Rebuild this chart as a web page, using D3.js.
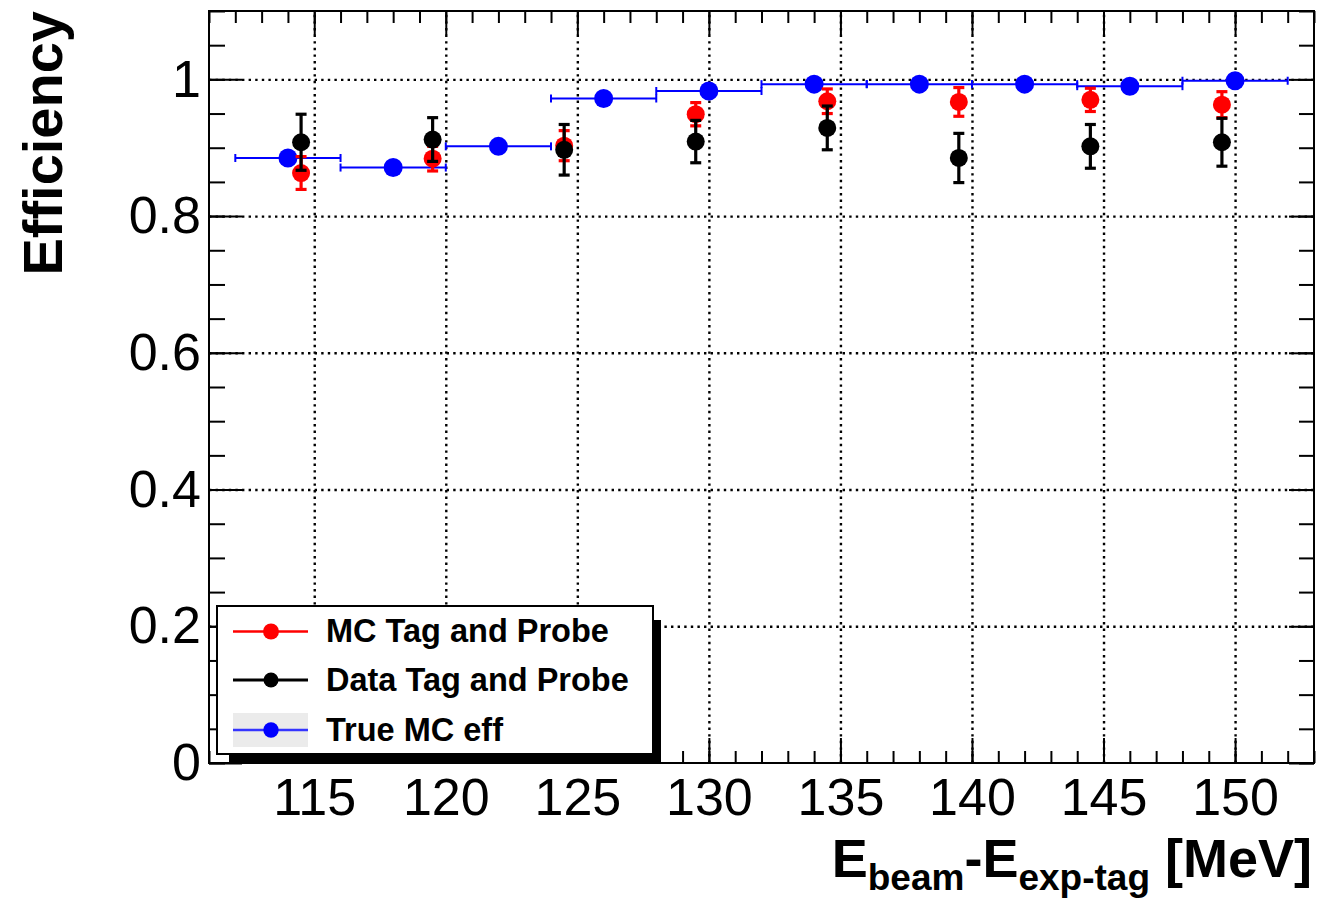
<!DOCTYPE html>
<html lang="en">
<head>
<meta charset="utf-8">
<title>Efficiency vs E_beam - E_exp-tag</title>
<script src="https://cdn.jsdelivr.net/npm/d3@7"></script>
<style>
    body { margin: 0; background: #fff; }
    svg text { font-family: "Liberation Sans", Arial, Helvetica, sans-serif; fill: #000; }
    .grid line { stroke: #000; stroke-width: 2.4; stroke-dasharray: 2.4,4.2; }
    .axis line { stroke: #000; stroke-width: 2; }
    .axis text { font-size: 52px; }
</style>
</head>
<body>
<script>
// true MC efficiency, 4 MeV bins
var binCenters = [114, 118, 122, 126, 130, 134, 138, 142, 146, 150];
var binHalfWidth = 2;
var trueEff = [0.885, 0.871, 0.902, 0.972, 0.983, 0.993, 0.993, 0.993, 0.990, 0.998];

// tag and probe points
var tpEnergy = [114.5, 119.5, 124.5, 129.5, 134.5, 139.5, 144.5, 149.5];
var mcTP = [0.863, 0.884, 0.903, 0.949, 0.968, 0.967, 0.970, 0.963];
var mcTPerr = [0.024, 0.018, 0.022, 0.017, 0.018, 0.021, 0.017, 0.019];
var dataTP = [0.908, 0.912, 0.897, 0.909, 0.929, 0.885, 0.902, 0.908];
var dataTPerr = [0.041, 0.032, 0.037, 0.031, 0.032, 0.036, 0.032, 0.035];

var xTicks = [115, 120, 125, 130, 135, 140, 145, 150];
var yTicks = [0, 0.2, 0.4, 0.6, 0.8, 1];
var legendLabels = ["MC Tag and Probe", "Data Tag and Probe", "True MC eff"];

var width = 1317, height = 898;
var padL = 209, padR = 1314, padT = 11, padB = 763;

var svg = d3.select("body").append("svg")
    .attr("width", width).attr("height", height);

var x = d3.scaleLinear().domain([111, 153]).range([padL, padR]);
var y = d3.scaleLinear().domain([0, 1.1]).range([padB, padT]);

// grid
svg.append("g").attr("class", "grid")
    .attr("transform", "translate(0," + padB + ")")
    .call(d3.axisBottom(x).tickValues(xTicks).tickSize(-(padB - padT)).tickFormat(""))
    .call(g => g.select(".domain").remove());
svg.append("g").attr("class", "grid")
    .attr("transform", "translate(" + padL + ",0)")
    .call(d3.axisLeft(y).tickValues(yTicks.filter(v => v > 0)).tickSize(-(padR - padL)).tickFormat(""))
    .call(g => g.select(".domain").remove());

// ticks, ROOT style (inside the frame)
var xMinor = d3.range(111, 154, 1);
var yMinor = d3.range(0, 1.1001, 0.05);

function addAxis(axis, tr) {
    var g = svg.append("g").attr("class", "axis").attr("transform", tr).call(axis);
    g.select(".domain").remove();
    return g;
}
addAxis(d3.axisBottom(x).tickValues(xMinor).tickSize(-12).tickFormat(""), "translate(0," + padB + ")");
addAxis(d3.axisBottom(x).tickValues(xTicks).tickSize(-25).tickPadding(15).tickFormat(d3.format("d")), "translate(0," + padB + ")");
addAxis(d3.axisTop(x).tickValues(xMinor).tickSize(-12).tickFormat(""), "translate(0," + padT + ")");
addAxis(d3.axisTop(x).tickValues(xTicks).tickSize(-24).tickFormat(""), "translate(0," + padT + ")");
addAxis(d3.axisLeft(y).tickValues(yMinor).tickSize(-16).tickFormat(""), "translate(" + padL + ",0)");
addAxis(d3.axisLeft(y).tickValues(yTicks).tickSize(-33).tickPadding(8).tickFormat(d => d === 0 ? "0" : d === 1 ? "1" : d3.format(".1f")(d)), "translate(" + padL + ",0)");
addAxis(d3.axisRight(y).tickValues(yMinor).tickSize(-15).tickFormat(""), "translate(" + padR + ",0)");
addAxis(d3.axisRight(y).tickValues(yTicks).tickSize(-25).tickFormat(""), "translate(" + padR + ",0)");

// frame
svg.append("rect")
    .attr("x", padL).attr("y", padT)
    .attr("width", padR - padL).attr("height", padB - padT)
    .attr("fill", "none").attr("stroke", "#000").attr("stroke-width", 2);

// true MC eff: horizontal bin bars
var blue = "#0000ff";
var gBlue = svg.append("g");
binCenters.forEach(function(c, i) {
    var yy = y(trueEff[i]), x0 = x(c - binHalfWidth), x1 = x(c + binHalfWidth);
    gBlue.append("line").attr("x1", x0).attr("x2", x1).attr("y1", yy).attr("y2", yy)
        .attr("stroke", blue).attr("stroke-width", 2);
    [x0, x1].forEach(function(xe) {
        gBlue.append("line").attr("x1", xe).attr("x2", xe).attr("y1", yy - 4).attr("y2", yy + 4)
            .attr("stroke", blue).attr("stroke-width", 2);
    });
});
gBlue.selectAll("circle").data(binCenters).enter().append("circle")
    .attr("cx", d => x(d)).attr("cy", (d, i) => y(trueEff[i])).attr("r", 9.5)
    .attr("fill", blue);

// tag and probe with vertical error bars
function drawTP(vals, errs, color) {
    var g = svg.append("g");
    tpEnergy.forEach(function(e, i) {
        var xx = x(e), y0 = y(vals[i] - errs[i]), y1 = y(vals[i] + errs[i]);
        g.append("line").attr("x1", xx).attr("x2", xx).attr("y1", y0).attr("y2", y1)
            .attr("stroke", color).attr("stroke-width", 3.2);
        [y0, y1].forEach(function(ye) {
            g.append("line").attr("x1", xx - 5.5).attr("x2", xx + 5.5).attr("y1", ye).attr("y2", ye)
                .attr("stroke", color).attr("stroke-width", 3.2);
        });
    });
    g.selectAll("circle").data(tpEnergy).enter().append("circle")
        .attr("cx", d => x(d)).attr("cy", (d, i) => y(vals[i])).attr("r", 9)
        .attr("fill", color);
}
drawTP(mcTP, mcTPerr, "#ff0000");
drawTP(dataTP, dataTPerr, "#000");

// legend
var lg = svg.append("g");
lg.append("rect").attr("x", 229).attr("y", 620).attr("width", 432).attr("height", 143).attr("fill", "#000");
lg.append("rect").attr("x", 217).attr("y", 606).attr("width", 436).attr("height", 148)
    .attr("fill", "#fff").attr("stroke", "#000").attr("stroke-width", 2);
lg.append("rect").attr("x", 233).attr("y", 713).attr("width", 75).attr("height", 34).attr("fill", "#ebebeb");
var legColors = ["#ff0000", "#000", "#3535ff"];
var legMarker = ["#ff0000", "#000", blue];
var legRows = [631.5, 680, 730];
var legR = [8, 7.5, 7.7];
legendLabels.forEach(function(t, i) {
    var yy = legRows[i];
    lg.append("line").attr("x1", 233).attr("x2", 308).attr("y1", yy).attr("y2", yy)
        .attr("stroke", legColors[i]).attr("stroke-width", i === 1 ? 3 : 2.5);
    lg.append("circle").attr("cx", 271).attr("cy", yy).attr("r", legR[i]).attr("fill", legMarker[i]);
    lg.append("text").attr("x", 326).attr("y", yy + 10.5)
        .style("font-size", "32.5px").style("font-weight", "bold").text(t);
});

// axis titles
svg.append("text")
    .attr("transform", "translate(62," + padT + ") rotate(-90)")
    .attr("text-anchor", "end")
    .style("font-size", "56px").style("font-weight", "bold")
    .text("Efficiency");

var xt = svg.append("text")
    .attr("x", 1312).attr("y", 877)
    .attr("text-anchor", "end")
    .style("font-size", "54px").style("font-weight", "bold");
xt.append("tspan").text("E");
xt.append("tspan").attr("dy", 13).style("font-size", "37px").text("beam");
xt.append("tspan").attr("dy", -13).text("-E");
xt.append("tspan").attr("dy", 13).style("font-size", "37px").text("exp-tag");
xt.append("tspan").attr("dy", -13).text(" [MeV]");
</script>
</body>
</html>
